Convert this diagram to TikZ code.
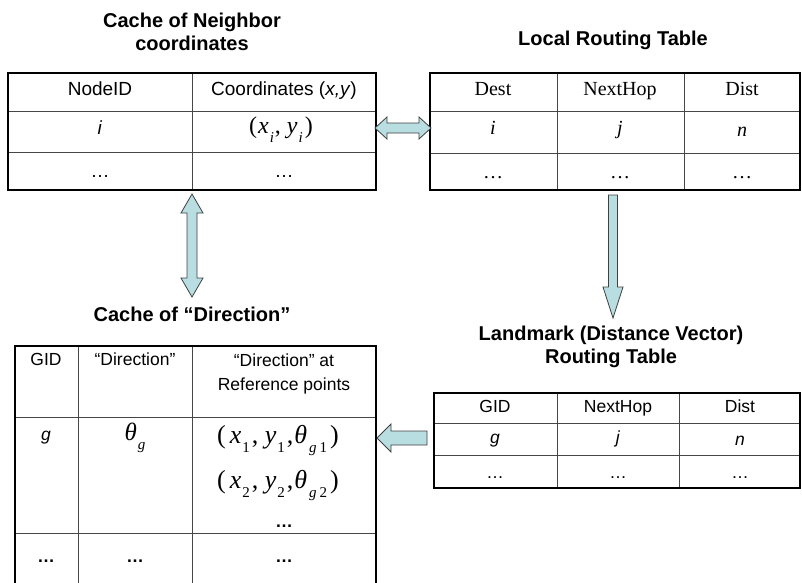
\documentclass[tikz,border=0pt]{standalone}
\usepackage{fontspec}
\setmainfont{Liberation Serif}
\setsansfont{Liberation Sans}
\definecolor{arrfill}{RGB}{185,222,226}
\definecolor{innerln}{RGB}{70,70,70}
\newcommand\fsz[1]{\fontsize{#1}{#1}\selectfont}
\newcommand\mysub[2]{\raisebox{-0.36em}{\fontsize{#1}{#1}\selectfont #2}}
\begin{document}
\begin{tikzpicture}[x=1pt,y=-1pt,
  outer/.style={line width=2.4pt},
  innerl/.style={line width=1pt, draw=innerln},
  arr/.style={fill=arrfill, draw=black!75, line width=0.8pt, line join=miter},
  ttl/.style={font=\sffamily\bfseries\fontsize{20}{23}\selectfont, align=center, inner sep=0pt},
  fixh/.style={text height=0.72em, text depth=0em},
  sf/.style={font=\sffamily\fontsize{19}{23}\selectfont, inner sep=0pt, fixh},
  sfs/.style={font=\sffamily\fontsize{17.5}{24}\selectfont, inner sep=0pt, fixh},
  sfm/.style={font=\sffamily\fontsize{17.5}{24}\selectfont, inner sep=0pt, align=center},
  rm/.style={font=\rmfamily\fsz{20}, inner sep=0pt, fixh}]
\useasboundingbox (0,0) rectangle (802,582);
\clip (0,0) rectangle (802,582);

% titles
\node[ttl] (title1) at (192,32) {Cache of Neighbor\\coordinates};
\node[ttl] (title2) at (613,40) {Local Routing Table};
\node[ttl] (title3) at (192,314) {Cache of “Direction”};
\node[ttl] (title4) at (611,347) {Landmark (Distance Vector)\\Routing Table};

% table 1: cache of neighbor coordinates
\draw[innerl] (192,73) -- (192,190) (8,111) -- (376,111) (8,152) -- (376,152);
\draw[outer] (8,73) rectangle (376,190);
\node[sf] (t1h1) at (100,92) {NodeID};
\node[sf] (t1h2) at (284,92) {Coordinates (\textit{x,y})};
\node[sf] (t1a) at (100,131) {\textit{i}};
\node[rm] (t1b) at (281,130) {\fsz{24}(\kern1pt\textit{x}\mysub{15}{\kern1pt\textit{i}}\kern1pt, \textit{y}\mysub{15}{\kern1pt\textit{i}}\kern2pt)};
\node[sf] (t1c) at (100,174) {…};
\node[sf] (t1d) at (284,174) {…};

% table 2: local routing table
\draw[innerl] (557,73) -- (557,190) (684,73) -- (684,190) (430,111) -- (800,111) (430,153) -- (800,153);
\draw[outer] (430,73) rectangle (800,190);
\node[rm] (t2h1) at (493,92) {Dest};
\node[rm] (t2h2) at (620,92) {NextHop};
\node[rm] (t2h3) at (742,92) {Dist};
\node[rm] (t2a) at (493,131) {\textit{i}};
\node[rm] (t2b) at (620,131) {\textit{j}};
\node[rm] (t2c) at (742,133) {\textit{n}};
\node[rm] (t2d) at (493,175) {…};
\node[rm] (t2e) at (620,175) {…};
\node[rm] (t2f) at (742,175) {…};

% table 3: cache of direction
\draw[innerl] (78,346) -- (78,600) (192,346) -- (192,600) (15,417) -- (376,417) (15,533) -- (376,533);
\draw[outer] (15,346) rectangle (376,600);
\node[sfs] (t3h1) at (46,362) {GID};
\node[sfs] (t3h2) at (135,362) {“Direction”};
\node[sfm] (t3h3) at (284,374) {“Direction” at\\Reference points};
\node[sfs] (t3a) at (46,437) {\textit{g}};
\node[rm] (t3b) at (135,437) {\fsz{25}\textit{θ}\mysub{15}{\kern1pt\textit{g}}};
\node[rm] (t3c) at (278,440) {\fsz{26}(\kern4pt\textit{x}\mysub{15}{\kern1pt 1}\kern2pt, \textit{y}\mysub{15}{\kern1pt 1}\kern2pt,\kern1pt\textit{θ}\mysub{15}{\kern2pt\textit{g}\kern3pt1}\kern3pt)};
\node[rm] (t3d) at (278,485) {\fsz{26}(\kern4pt\textit{x}\mysub{15}{\kern1pt 2}\kern2pt, \textit{y}\mysub{15}{\kern1pt 2}\kern2pt,\kern1pt\textit{θ}\mysub{15}{\kern2pt\textit{g}\kern3pt2}\kern3pt)};
\node[sfs] (t3e) at (284,524) {\textbf{…}};
\node[sfs] (t3f) at (46,559) {\textbf{…}};
\node[sfs] (t3g) at (135,559) {\textbf{…}};
\node[sfs] (t3h) at (284,559) {\textbf{…}};

% table 4: landmark routing table
\draw[innerl] (557,393) -- (557,488) (679,393) -- (679,488) (434,423) -- (800,423) (434,455) -- (800,455);
\draw[outer] (434,393) rectangle (800,488);
\node[sfs] (t4h1) at (495,409) {GID};
\node[sfs] (t4h2) at (618,409) {NextHop};
\node[sfs] (t4h3) at (740,409) {Dist};
\node[sfs] (t4a) at (495,440) {\textit{g}};
\node[sfs] (t4b) at (618,440) {\textit{j}};
\node[sfs] (t4c) at (740,442) {\textit{n}};
\node[sfs] (t4d) at (495,475) {…};
\node[sfs] (t4e) at (618,475) {…};
\node[sfs] (t4f) at (740,475) {…};

% block arrows
\draw[arr] (375,128) -- (387,117) -- (387,123) -- (419,123) -- (419,117) -- (431,128)
  -- (419,139) -- (419,133) -- (387,133) -- (387,139) -- cycle;
\draw[arr] (192,194) -- (203,213) -- (197,213) -- (197,278) -- (203,278) -- (192,297)
  -- (181,278) -- (187,278) -- (187,213) -- (181,213) -- cycle;
\draw[arr] (608.5,195) -- (617.5,195) -- (617.5,287) -- (623,287) -- (613,318)
  -- (603,287) -- (608.5,287) -- cycle;
\draw[arr] (377,438) -- (391,424) -- (391,431) -- (427,431) -- (427,445) -- (391,445)
  -- (391,452) -- cycle;
\end{tikzpicture}
\end{document}
